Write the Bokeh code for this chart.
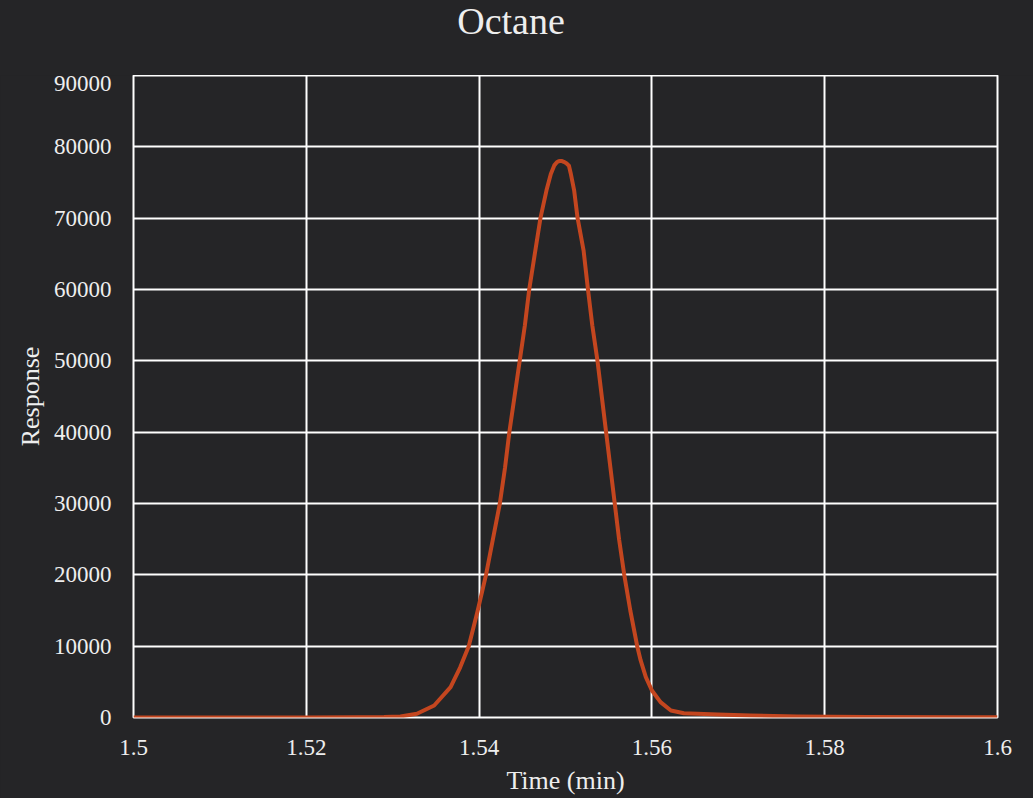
from bokeh.plotting import figure
from bokeh.models import FixedTicker, Range1d, BasicTickFormatter, Div
from bokeh.layouts import column
from bokeh.embed import file_html
from bokeh.resources import INLINE

title_text = "Octane"
x_label = "Time (min)"
y_label = "Response"

time_min = [1.5000, 1.5100, 1.5200, 1.5260, 1.5290, 1.5309, 1.5328, 1.5348, 1.5367,
            1.5378, 1.5388, 1.5398, 1.5408, 1.5416, 1.5424, 1.5430, 1.5435, 1.5441,
            1.5447, 1.5453, 1.5458, 1.5465, 1.5471, 1.5478, 1.5483, 1.5487, 1.5490,
            1.5492, 1.5494, 1.5496, 1.5498, 1.5501, 1.5504, 1.5506, 1.5510, 1.5514,
            1.5521, 1.5526, 1.5531, 1.5537, 1.5542, 1.5547, 1.5552, 1.5557, 1.5562,
            1.5568, 1.5575, 1.5583, 1.5587, 1.5593, 1.5600, 1.5610, 1.5622, 1.5637,
            1.5676, 1.5714, 1.5768, 1.5850, 1.5950, 1.6000]
response = [0, 0, 0, 20, 60, 140, 520, 1680, 4250,
            7000, 10000, 14800, 20000, 25000, 30000, 35000, 40000, 45000,
            50000, 55000, 60000, 65400, 70000, 73900, 76200, 77400, 77850,
            77980, 78020, 78000, 77900, 77700, 77350, 76300, 73900, 70000,
            65400, 60000, 55000, 50000, 45000, 40000, 35000, 30000, 25000,
            20000, 15000, 10000, 8000, 5650, 3790, 2150, 980, 600,
            420, 280, 140, 70, 30, 20]

x_ticks = [1.5, 1.52, 1.54, 1.56, 1.58, 1.6]
x_tick_labels = ["1.5", "1.52", "1.54", "1.56", "1.58", "1.6"]
y_ticks = [0, 10000, 20000, 30000, 40000, 50000, 60000, 70000, 80000, 90000]

BG = "#252527"
FONT = "Liberation Serif"
TXT = "#eeeeee"

header = Div(
    text=('<div style="width:1022px;text-align:center;font-family:\'Liberation Serif\',serif;'
          'font-size:38px;line-height:38px;color:#eeeeee;padding-top:2px;margin:0;">'
          + title_text + '</div>'),
    width=1033, height=75, margin=0,
    styles={"background-color": BG},
)

p = figure(width=1033, height=723, output_backend="svg", toolbar_location=None,
           x_range=Range1d(1.5, 1.6), y_range=Range1d(0, 90000),
           min_border_left=133, min_border_right=36, min_border_top=0,
           min_border_bottom=81, margin=0)
p.background_fill_color = BG
p.border_fill_color = BG
p.outline_line_color = "white"
p.outline_line_width = 2

p.xaxis.ticker = FixedTicker(ticks=x_ticks)
p.xaxis.major_label_overrides = {t: l for t, l in zip(x_ticks, x_tick_labels)}
p.yaxis.ticker = FixedTicker(ticks=y_ticks)
p.yaxis.formatter = BasicTickFormatter(use_scientific=False)

for ax in (p.xaxis, p.yaxis):
    ax.axis_line_color = None
    ax.major_tick_line_color = None
    ax.minor_tick_line_color = None
    ax.major_label_text_font = FONT
    ax.major_label_text_font_size = "23px"
    ax.major_label_text_color = TXT
    ax.axis_label_text_font = FONT
    ax.axis_label_text_font_size = "26px"
    ax.axis_label_text_color = TXT
    ax.axis_label_text_font_style = "normal"

p.xaxis.axis_label = x_label
p.yaxis.axis_label = y_label
p.xaxis.major_label_standoff = 16
p.yaxis.major_label_standoff = 16
p.xaxis.axis_label_standoff = 8
p.yaxis.axis_label_standoff = 6

p.xgrid.grid_line_color = "white"
p.ygrid.grid_line_color = "white"
p.xgrid.grid_line_width = 2
p.ygrid.grid_line_width = 2

p.line(time_min, response, line_color="#C4461F", line_width=4, line_join="round")

layout = column(header, p, spacing=0, margin=0, styles={"background-color": BG})

open("out.html", "w").write(file_html(layout, INLINE))
